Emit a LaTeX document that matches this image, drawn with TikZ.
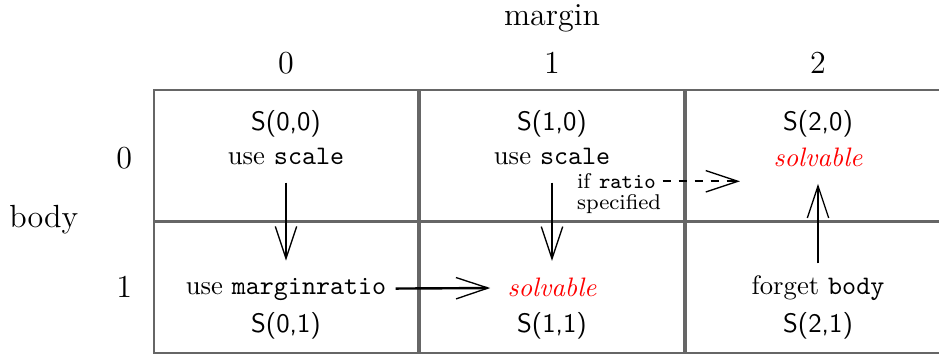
\documentclass[tikz,border=0pt]{standalone}
\usepackage{tikz}
\usetikzlibrary{arrows.meta}

\begin{document}
\begin{tikzpicture}[
  >={Straight Barb[length=12pt,width=8pt,line width=0.5pt]},
  cell/.style={draw=black!60,line width=0.6pt},
  flow/.style={->,line width=0.9pt,shorten <=3pt,shorten >=3pt},
  ok/.style={red,font=\itshape}
]

  \useasboundingbox (-2.026,-0.013) rectangle (10.329,4.645);

  % the six cells (the right column runs off the page)
  \draw[cell] (0,1.737)   rectangle (3.474,3.461);
  \draw[cell] (3.5,1.737) rectangle (6.974,3.461);
  \draw[cell] (7.0,1.737) rectangle (10.474,3.461);
  \draw[cell] (0,0)       rectangle (3.474,1.724);
  \draw[cell] (3.5,0)     rectangle (6.974,1.724);
  \draw[cell] (7.0,0)     rectangle (10.474,1.724);

  % axis labels
  \node[font=\large] (margin) at (5.237,4.40) {margin};
  \node[font=\large] (col0) at (1.737,3.82) {0};
  \node[font=\large] (col1) at (5.237,3.82) {1};
  \node[font=\large] (col2) at (8.737,3.82) {2};

  \node[font=\large] (body) at (-1.45,1.75) {body};
  \node[font=\large] (row0) at (-0.39,2.56) {0};
  \node[font=\large] (row1) at (-0.39,0.875) {1};

  % first row
  \node (s00) at (1.737,3.01) {\textsf{S(0,0)}};
  \node (use00) at (1.737,2.58) {use \texttt{scale}};

  \node (s10) at (5.237,3.01) {\textsf{S(1,0)}};
  \node (use10) at (5.237,2.58) {use \texttt{scale}};

  \node (s20) at (8.737,3.01) {\textsf{S(2,0)}};
  \node[ok] (solv20) at (8.737,2.58) {solvable};

  % second row
  \node (use01) at (1.737,0.84) {use \texttt{marginratio}};
  \node (s01) at (1.737,0.36) {\textsf{S(0,1)}};

  \node[ok] (solv11) at (5.237,0.86) {solvable};
  \node (s11) at (5.237,0.36) {\textsf{S(1,1)}};

  \node (forget21) at (8.737,0.855) {forget \texttt{body}};
  \node (s21) at (8.737,0.36) {\textsf{S(2,1)}};

  % side note on the dashed step
  \node[font=\footnotesize,align=left] (ifratio) at (6.12,2.10)
    {if \texttt{ratio}\\[-1.5pt]specified};
  \coordinate (ratioend) at (7.71,2.26);

  % moves between the cells
  \draw[flow] (use00) -- (use01);
  \draw[flow] (use10) -- (solv11);
  \draw[flow,shorten <=0pt] (use01) -- (solv11);
  \draw[flow,shorten <=1pt] (forget21) -- (solv20);
  \draw[flow,dashed,shorten <=-3pt,shorten >=0pt]
    (ifratio.east |- ratioend) -- (ratioend);

\end{tikzpicture}
\end{document}
